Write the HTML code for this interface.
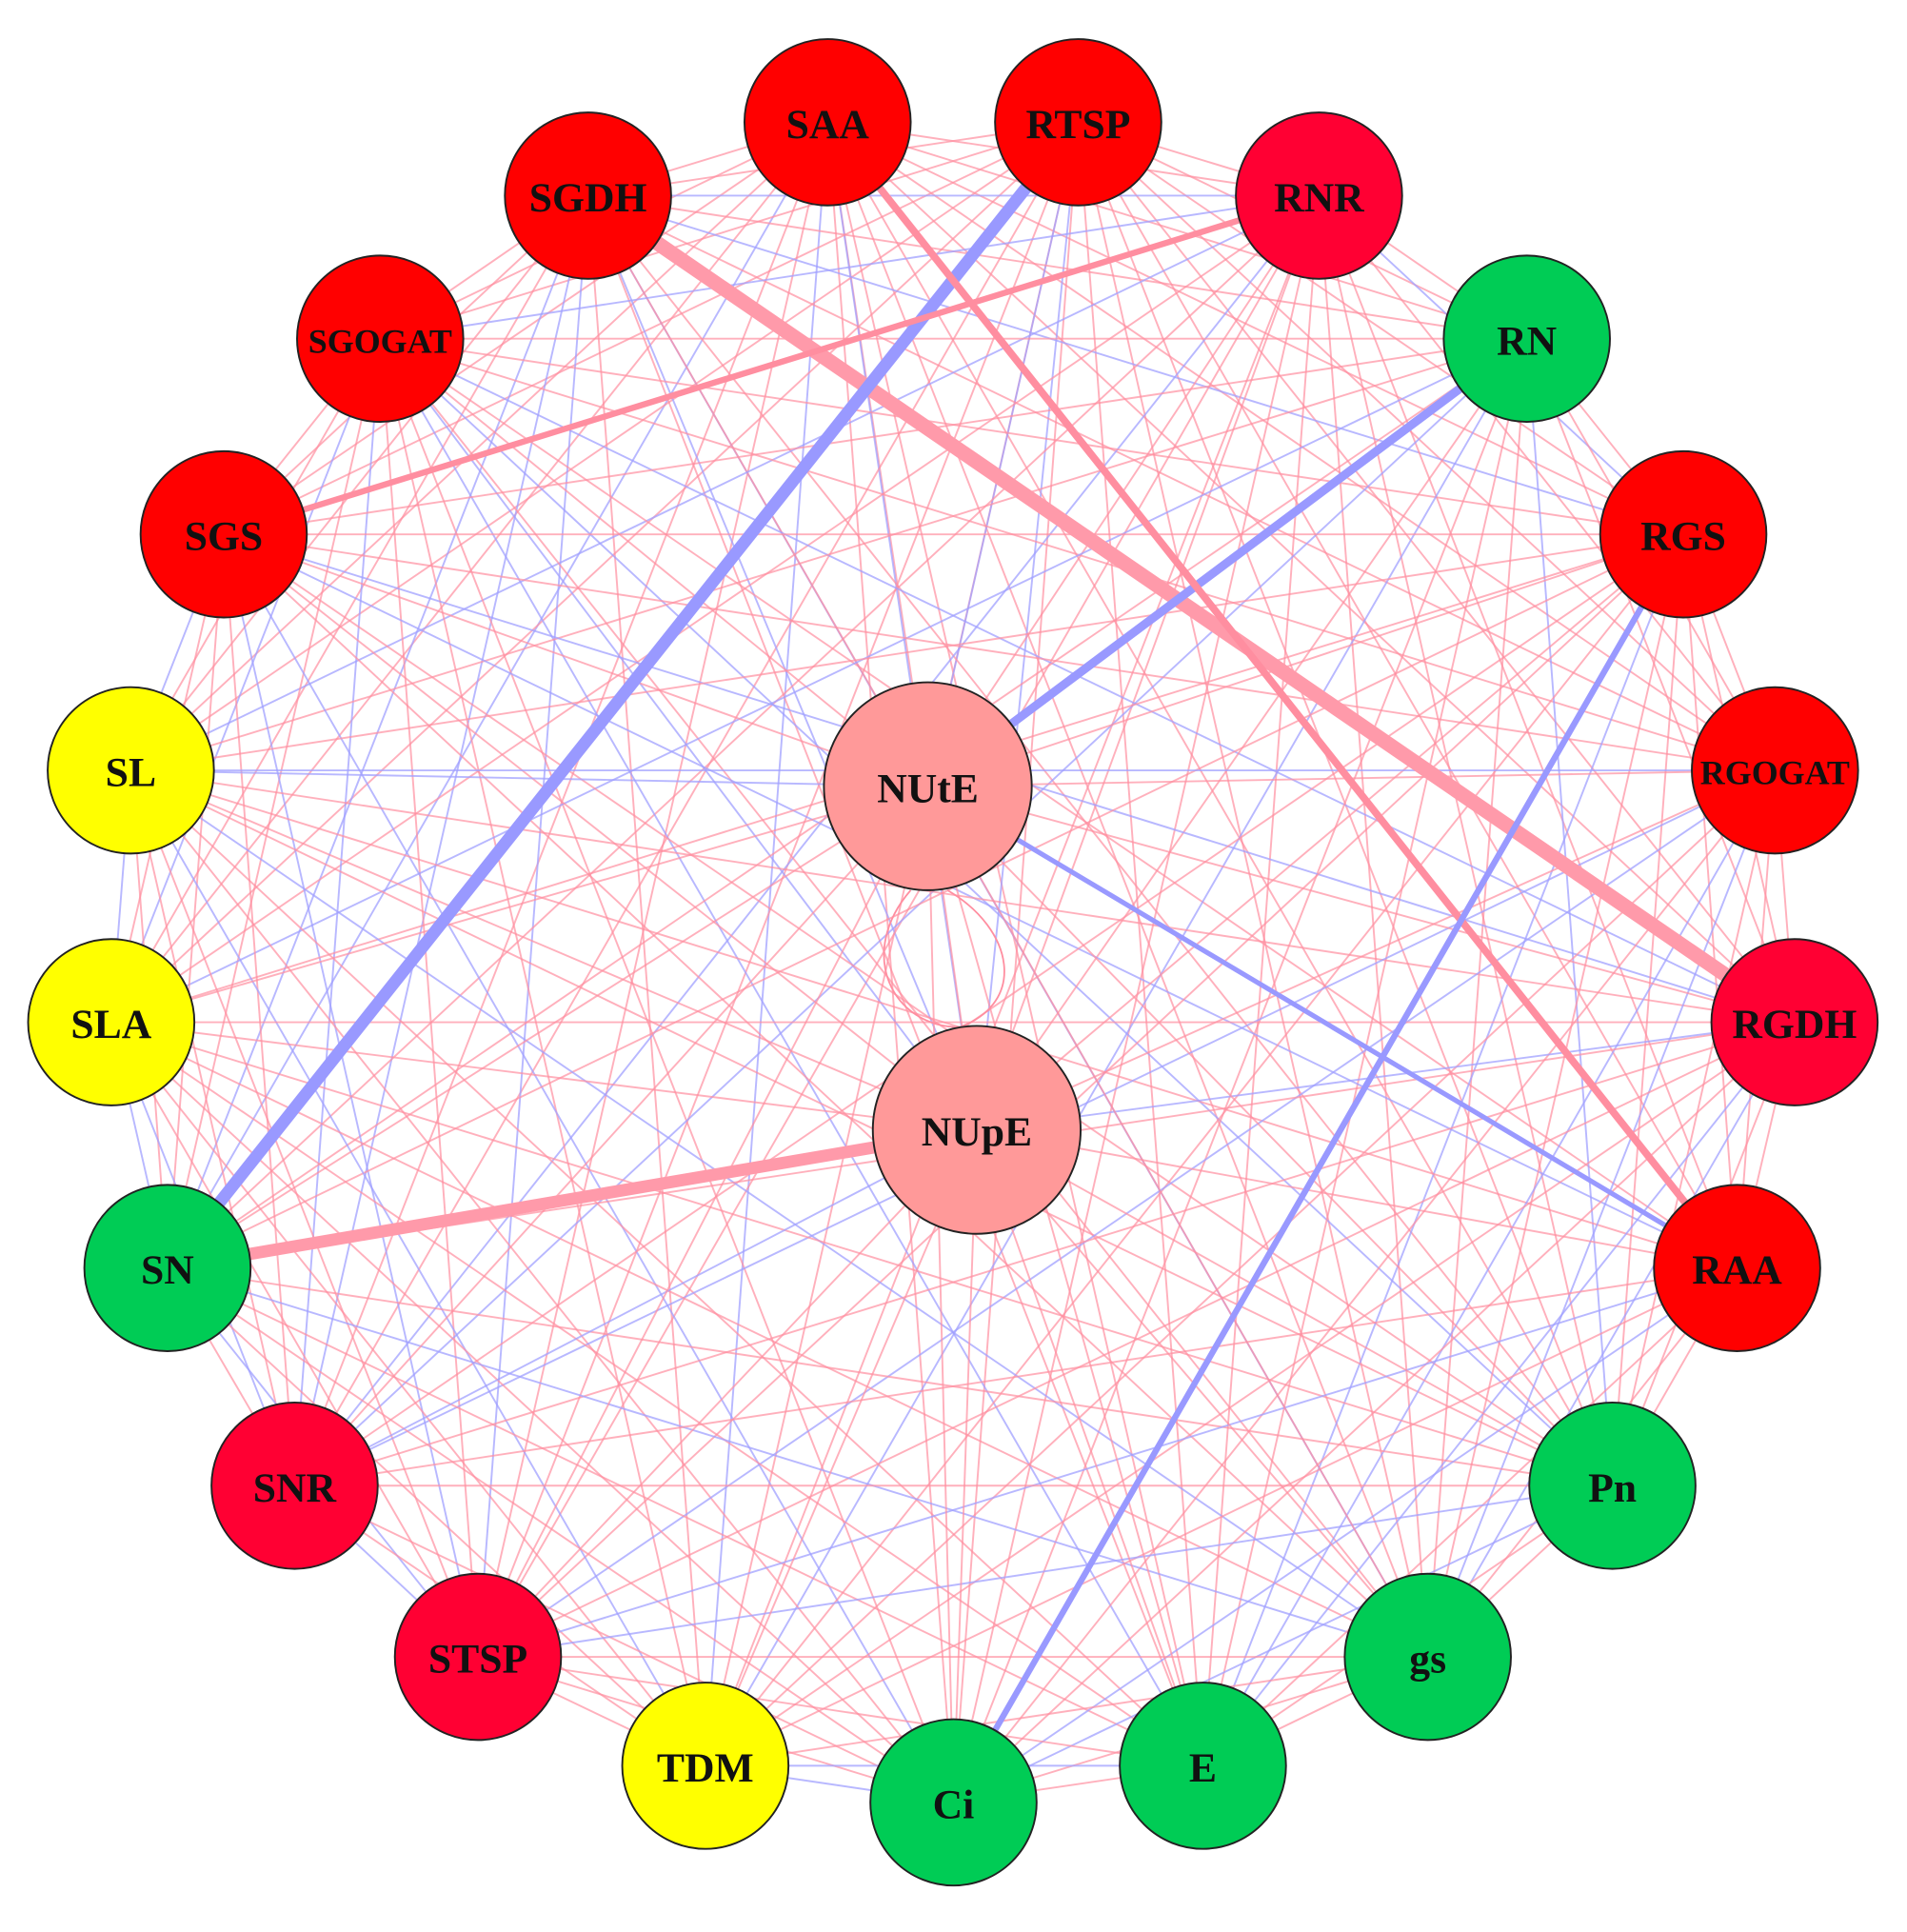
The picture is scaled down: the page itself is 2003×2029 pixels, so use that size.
<!DOCTYPE html>
<html><head><meta charset="utf-8"><style>
html,body{margin:0;padding:0;background:#fff;width:2003px;height:2029px;overflow:hidden}
svg{display:block}
text{font-family:"Liberation Serif",serif;font-weight:bold;text-anchor:middle;dominant-baseline:central;fill:#111}
</style></head><body>
<svg id="s" width="2003" height="2029" viewBox="0 0 1560 1580" preserveAspectRatio="none" xmlns="http://www.w3.org/2000/svg">
<g id="edges"></g>
<g id="thick"></g>
<g id="nodes"></g>
</svg>
<script>
var R='#ff0000',C='#ff0033',G='#00cc55',Y='#ffff00',P='#ff9999';
var N=[
['SAA',677,100,R],['RTSP',882,100,R],['SGDH',481,160,R],['RNR',1079,160,C],
['SGOGAT',311,277,R],['RN',1249,277,G],['SGS',183,437,R],['RGS',1377,437,R],
['SL',107,630,Y],['RGOGAT',1452,630,R],['SLA',91,836,Y],['RGDH',1468,836,C],
['SN',137,1037,G],['RAA',1421,1037,R],['SNR',241,1215,C],['Pn',1319,1215,G],
['STSP',391,1355,C],['gs',1168,1355,G],['TDM',577,1444,Y],['E',984,1444,G],['Ci',780,1474,G],
['NUtE',759,643,P],['NUpE',799,924,P]];
var ns='http://www.w3.org/2000/svg';
function ln(g,a,b,c,w,o){var l=document.createElementNS(ns,'line');l.setAttribute('x1',a[1]);l.setAttribute('y1',a[2]);l.setAttribute('x2',b[1]);l.setAttribute('y2',b[2]);l.setAttribute('stroke',c);l.setAttribute('stroke-width',w);if(o)l.setAttribute('stroke-opacity',o);g.appendChild(l);}
var eg=document.getElementById('edges');
var seed=7;function rnd(){seed=(seed*16807)%2147483647;return seed/2147483647;}
for(var i=0;i<N.length;i++)for(var j=i+1;j<N.length;j++){
  var r=rnd();
  if(r<0.05)continue;
  var blue=rnd()<0.25;
  ln(eg,N[i],N[j],blue?'#a0a0ff':'#ff8ea0',1.5,blue?0.75:0.7);
}
var p=document.createElementNS(ns,'path');p.setAttribute('d','M745,728 C700,780 730,840 785,840 M775,728 C830,760 840,820 785,840');p.setAttribute('fill','none');p.setAttribute('stroke','#ff8ea0');p.setAttribute('stroke-width','1.4');eg.appendChild(p);
function f(n){for(var k=0;k<N.length;k++)if(N[k][0]==n)return N[k];}
var tg=document.getElementById('thick');
[['SGDH','RGDH','#ff9aaa',12],['RTSP','SN','#9999ff',10],['RN','NUtE','#9999ff',7],['SAA','RAA','#ff8ea0',6],
 ['RNR','SGS','#ff8ea0',5],['RGS','Ci','#9999ff',5],['NUtE','RAA','#9999ff',4],['NUpE','SN','#ff9aaa',10]].forEach(function(e){ln(tg,f(e[0]),f(e[1]),e[2],e[3]);});
var ng=document.getElementById('nodes');
N.forEach(function(n){
 var r=(n[0]=='NUtE'||n[0]=='NUpE')?85:68;
 var c=document.createElementNS(ns,'circle');c.setAttribute('cx',n[1]);c.setAttribute('cy',n[2]);c.setAttribute('r',r);c.setAttribute('fill',n[3]);c.setAttribute('stroke','#222');c.setAttribute('stroke-width','1.5');ng.appendChild(c);
 var t=document.createElementNS(ns,'text');t.setAttribute('x',n[1]);t.setAttribute('y',n[2]+2);
 var fs=(n[0].length>=6)?28:34;t.setAttribute('font-size',fs);t.textContent=n[0];ng.appendChild(t);
});
</script>
</body></html>
